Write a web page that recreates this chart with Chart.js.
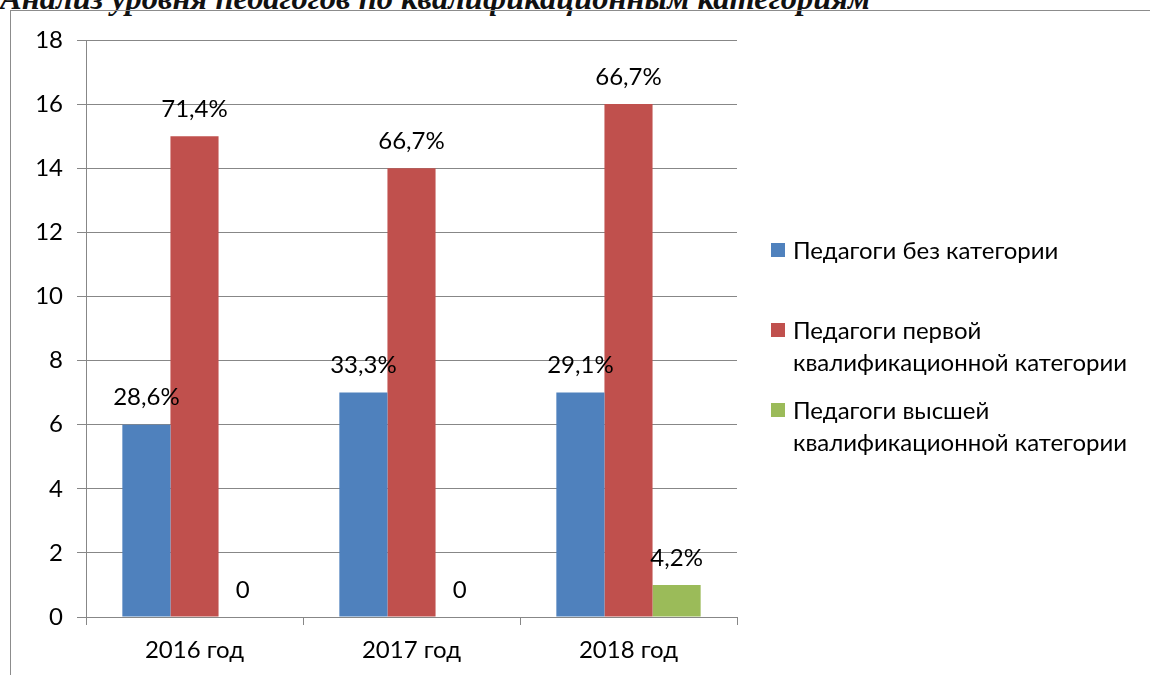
<!DOCTYPE html>
<html>
<head>
<meta charset="utf-8">
<script src="https://cdn.jsdelivr.net/npm/chart.js@4/dist/chart.umd.min.js"></script>
<style>
    body { margin: 0; width: 1150px; height: 675px; overflow: hidden; background: #fff; position: relative; }
    #title {
        position: absolute; left: 0; top: -18px; white-space: nowrap;
        font-family: "Liberation Serif", serif; font-weight: bold; font-style: italic;
        font-size: 32.5px; line-height: 32px; color: #111;
    }
    #frame {
        position: absolute; left: 10px; top: 10px; width: 1200px; height: 700px;
        border-left: 1px solid #8c8c8c; border-top: 1px solid #8c8c8c;
    }
    #chart-box { position: absolute; left: 0; top: 0; width: 1150px; height: 675px; }
    .legend-item { position: absolute; left: 771px; font-family: Lato, sans-serif; font-size: 24px; line-height: 32px; color: #000; }
    .legend-item .box { position: absolute; left: 0; top: 9px; width: 14px; height: 14px; }
    .legend-item .txt { margin-left: 22px; white-space: nowrap; }
</style>
</head>
<body>
<div id="title">Анализ уровня педагогов по квалификационным категориям</div>
<div id="frame"></div>
<div id="chart-box"><canvas id="chart" width="1150" height="675"></canvas></div>
<div id="legend"></div>
<script>
const years = ["2016 год", "2017 год", "2018 год"];
const seriesNames = [
    ["Педагоги без категории"],
    ["Педагоги первой", "квалификационной категории"],
    ["Педагоги высшей", "квалификационной категории"]
];
const noCategory = [6, 7, 7];
const firstCategory = [15, 14, 16];
const highestCategory = [0, 0, 1];
const noCategoryLabels = ["28,6%", "33,3%", "29,1%"];
const firstCategoryLabels = ["71,4%", "66,7%", "66,7%"];
const highestCategoryLabels = ["0", "0", "4,2%"];
const colors = ["#4F81BD", "#C0504D", "#9BBB59"];

const valueLabels = {
    id: 'valueLabels',
    afterDatasetsDraw(chart) {
        const ctx = chart.ctx;
        ctx.save();
        ctx.font = '24px Lato';
        ctx.fillStyle = '#000';
        ctx.textAlign = 'center';
        ctx.textBaseline = 'middle';
        chart.data.datasets.forEach((ds, i) => {
            const meta = chart.getDatasetMeta(i);
            meta.data.forEach((bar, j) => {
                ctx.fillText(ds.valueText[j], bar.x, bar.y - 27);
            });
        });
        ctx.restore();
    }
};

const gridColor = '#878787';

new Chart(document.getElementById('chart'), {
    type: 'bar',
    data: {
        labels: years,
        datasets: [
            { label: seriesNames[0].join(' '), data: noCategory, valueText: noCategoryLabels, backgroundColor: colors[0] },
            { label: seriesNames[1].join(' '), data: firstCategory, valueText: firstCategoryLabels, backgroundColor: colors[1] },
            { label: seriesNames[2].join(' '), data: highestCategory, valueText: highestCategoryLabels, backgroundColor: colors[2] }
        ]
    },
    options: {
        responsive: false,
        animation: false,
        layout: { padding: { left: 20, right: 413, top: 40, bottom: 0 } },
        datasets: { bar: { categoryPercentage: 0.665, barPercentage: 1.0 } },
        plugins: {
            legend: { display: false },
            tooltip: { enabled: false }
        },
        scales: {
            x: {
                afterFit(scale) { scale.height = 58; },
                grid: { drawOnChartArea: false, drawTicks: true, tickLength: 8, color: gridColor, offset: true },
                border: { color: gridColor },
                ticks: { font: { family: 'Lato', size: 24 }, color: '#000', padding: 11 }
            },
            y: {
                min: 0, max: 18,
                afterFit(scale) { scale.width = 66; },
                grid: { color: gridColor, tickLength: 9 },
                border: { color: gridColor },
                ticks: { stepSize: 2, font: { family: 'Lato', size: 24 }, color: '#000', padding: 14 }
            }
        }
    },
    plugins: [valueLabels]
});

// легенда справа
const legend = document.getElementById('legend');
const tops = [234, 314, 394];
seriesNames.forEach((lines, i) => {
    const item = document.createElement('div');
    item.className = 'legend-item';
    item.style.top = tops[i] + 'px';
    item.innerHTML = '<div class="box" style="background:' + colors[i] + '"></div>' +
        lines.map(l => '<div class="txt">' + l + '</div>').join('');
    legend.appendChild(item);
});
</script>
</body>
</html>
